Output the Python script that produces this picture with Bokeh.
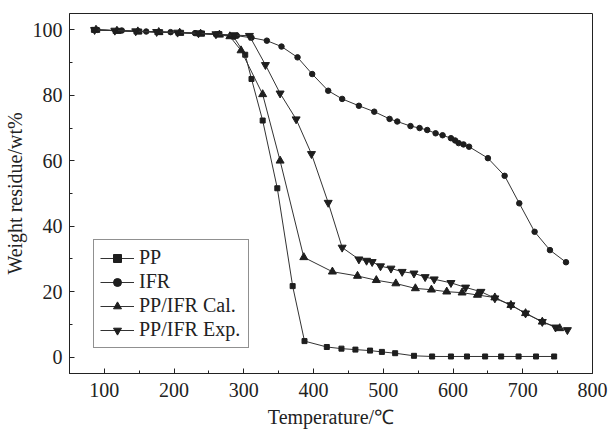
from bokeh.plotting import figure
from bokeh.models import Range1d, Legend, LegendItem, FixedTicker
from bokeh.embed import file_html
from bokeh.resources import INLINE

# ---- data ----
pp_x = [85, 120, 150, 180, 210, 240, 265, 285, 302, 311, 327, 348, 370, 387, 419, 440, 460, 481, 498, 517, 544, 570, 597, 620, 646, 669, 694, 719, 745]
pp_y = [100, 99.7, 99.5, 99.3, 99.1, 98.9, 98.7, 98.0, 92.4, 85.0, 72.3, 51.6, 21.7, 4.9, 3.1, 2.6, 2.3, 2.0, 1.6, 1.2, 0.4, 0.2, 0.2, 0.2, 0.2, 0.2, 0.2, 0.2, 0.2]

ifr_x = [90, 125, 160, 195, 230, 260, 290, 311, 333, 354, 377, 398, 421, 441, 465, 487, 509, 520, 539, 552, 563, 575, 585, 597, 603, 608, 615, 623, 650, 674, 695, 717, 739, 762]
ifr_y = [100, 99.8, 99.5, 99.3, 99.0, 98.6, 98.2, 97.6, 96.7, 94.9, 91.6, 86.5, 81.4, 78.9, 76.8, 75.0, 72.8, 72.0, 70.6, 70.0, 69.4, 68.4, 67.8, 66.9, 66.2, 65.4, 65.0, 64.3, 60.8, 55.4, 47.0, 38.3, 32.7, 29.0]

cal_x = [88, 118, 148, 178, 208, 238, 265, 280, 296, 327, 352, 386, 427, 463, 490, 518, 546, 569, 591, 613, 635, 660, 683, 704, 728, 753]
cal_y = [100, 99.7, 99.5, 99.3, 99.1, 98.8, 98.5, 98.0, 93.7, 80.3, 60.0, 30.5, 26.1, 24.8, 23.5, 22.5, 21.0, 20.6, 20.0, 19.7, 19.0, 18.2, 15.9, 13.4, 10.8, 8.8]

exp_x = [86, 115, 145, 175, 205, 235, 260, 286, 308, 331, 352, 375, 397, 421, 441, 465, 476, 484, 496, 511, 527, 544, 560, 573, 597, 618, 640, 660, 683, 704, 728, 747, 764]
exp_y = [100, 99.8, 99.6, 99.4, 99.2, 99.0, 98.7, 98.4, 98.2, 89.3, 80.6, 72.7, 62.1, 47.2, 33.5, 29.9, 29.5, 29.1, 27.8, 27.1, 26.1, 25.6, 24.5, 23.8, 22.7, 21.3, 20.0, 18.0, 15.9, 13.4, 10.8, 9.1, 8.3]

labels = ["PP", "IFR", "PP/IFR Cal.", "PP/IFR Exp."]
x_ticks = [100, 200, 300, 400, 500, 600, 700, 800]
y_ticks = [0, 20, 40, 60, 80, 100]

FONT = "Liberation Serif"

p = figure(width=608, height=433, output_backend="svg", toolbar_location=None,
           x_range=Range1d(50, 800), y_range=Range1d(-5, 105),
           min_border_left=69, min_border_right=16, min_border_top=13, min_border_bottom=60)
p.xgrid.visible = False
p.ygrid.visible = False
p.outline_line_color = "#222222"
p.outline_line_width = 1
p.background_fill_color = "white"
p.border_fill_color = "white"

for ax in (p.xaxis[0], p.yaxis[0]):
    ax.axis_line_color = "#222222"
    ax.major_tick_in = 5
    ax.major_tick_out = 0
    ax.minor_tick_in = 3
    ax.minor_tick_out = 0
    ax.major_tick_line_color = "#222222"
    ax.minor_tick_line_color = "#222222"
    ax.major_label_text_font = FONT
    ax.major_label_text_font_size = "20px"
    ax.major_label_text_color = "#222222"
    ax.axis_label_text_font = FONT
    ax.axis_label_text_font_size = "20px"
    ax.axis_label_text_font_style = "normal"
    ax.axis_label_text_color = "#222222"

p.xaxis.ticker = FixedTicker(ticks=x_ticks, minor_ticks=[v + 50 for v in [0] + x_ticks[:-1]])
p.yaxis.ticker = FixedTicker(ticks=y_ticks, minor_ticks=[v + 10 for v in y_ticks[:-1]])
p.xaxis.axis_label = "Temperature/℃"
p.yaxis.axis_label = "Weight residue/wt%"
p.xaxis.major_label_standoff = 9
p.xaxis.axis_label_standoff = 6
p.yaxis.major_label_standoff = 7
p.yaxis.axis_label_standoff = 4

LC = "#333333"
MC = "#1e1e1e"
series = [
    (pp_x, pp_y, "square", 5),
    (ifr_x, ifr_y, "circle", 5.5),
    (cal_x, cal_y, "triangle", 8),
    (exp_x, exp_y, "inverted_triangle", 8),
]
items = []
for (xs, ys, marker, size), lab in zip(series, labels):
    l = p.line(xs, ys, line_color=LC, line_width=1)
    s = p.scatter(xs, ys, marker=marker, size=size, fill_color=MC, line_color=MC)
    items.append(LegendItem(label=lab, renderers=[l, s]))

legend = Legend(items=items, location=(24, 25), margin=0, padding=6,
                spacing=1, glyph_width=34, glyph_height=20, label_height=20,
                label_width=103, label_standoff=5,
                label_text_font=FONT, label_text_font_size="20px", label_text_color="#222222",
                border_line_color="#222222", border_line_width=1,
                background_fill_color="white", background_fill_alpha=1)
p.add_layout(legend)

open("out.html", "w").write(file_html(p, INLINE))
